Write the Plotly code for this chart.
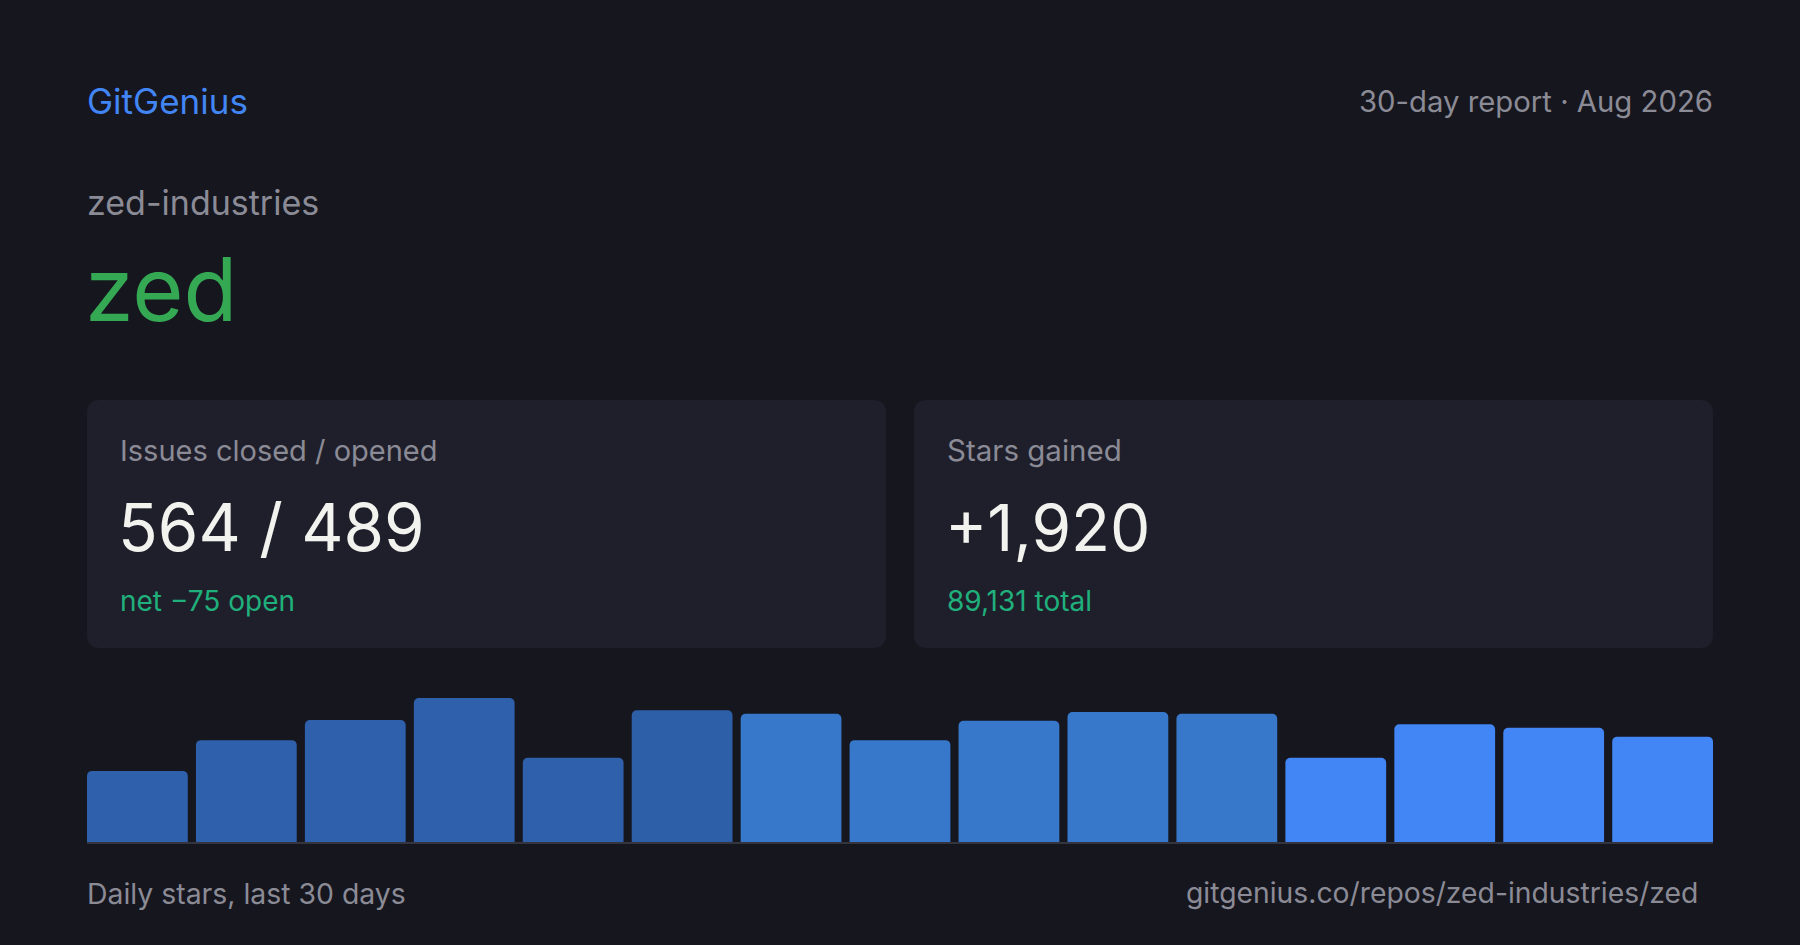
import plotly.graph_objects as go

# ---- data ----
brand = "GitGenius"
report_label = "30-day report · Aug 2026"
owner = "zed-industries"
repo = "zed"
card_titles = ["Issues closed / opened", "Stars gained"]
card_values = ["564 / 489", "+1,920"]
card_subs = ["net \u221275 open", "89,131 total"]
periods = [f"P{i+1}" for i in range(15)]
stars = [81, 116, 139, 164, 96, 150, 146, 116, 138, 148, 146, 96, 134, 130, 120]
bar_colors = ["#2f60ab"] * 5 + ["#2d5ea8"] + ["#3778cb"] * 5 + ["#4285f4"] * 4
footer_left = "Daily stars, last 30 days"
footer_right = "gitgenius.co/repos/zed-industries/zed"

W, H = 1800, 945
BG = "#16161f"
CARD = "#1f1f2b"
GRAY = "#8b8b96"
WHITE = "#f2f2ee"
GREEN_SUB = "#1fb07c"
FONT = "Inter"


def px(x):
    return x / W


def py(y):
    return 1 - y / H


def rounded_rect(x0, y0, x1, y1, r):
    rx, ry = r / W, r / H
    X0, X1 = px(x0), px(x1)
    Y0, Y1 = py(y0), py(y1)  # Y0 top (larger), Y1 bottom
    return (f"M{X0+rx},{Y0} L{X1-rx},{Y0} Q{X1},{Y0} {X1},{Y0-ry} "
            f"L{X1},{Y1+ry} Q{X1},{Y1} {X1-rx},{Y1} L{X0+rx},{Y1} "
            f"Q{X0},{Y1} {X0},{Y1+ry} L{X0},{Y0-ry} Q{X0},{Y0} {X0+rx},{Y0} Z")


fig = go.Figure()
gap = 0.075
fig.add_trace(go.Bar(
    x=periods, y=stars,
    marker=dict(color=bar_colors, line=dict(width=0), cornerradius=5),
    hoverinfo="skip",
))

bar_left, bar_right = 87, 1713
base_y, top_y = 842, 680
ppu = 144 / 164  # pixels per star
ymax = (base_y - top_y) / ppu

fig.update_layout(
    width=W, height=H,
    margin=dict(l=0, r=0, t=0, b=0),
    paper_bgcolor=BG, plot_bgcolor=BG,
    showlegend=False,
    bargap=gap,
    font=dict(family=FONT),
    xaxis=dict(domain=[px(bar_left), px(bar_right)], visible=False,
               range=[-0.5 + gap / 2, len(periods) - 0.5 - gap / 2], fixedrange=True),
    yaxis=dict(domain=[py(base_y), py(top_y)], visible=False,
               range=[0, ymax], fixedrange=True),
)

shapes = []
cards = [(87, 400, 886, 648), (914, 400, 1713, 648)]
for (x0, y0, x1, y1) in cards:
    shapes.append(dict(type="path", path=rounded_rect(x0, y0, x1, y1, 13),
                       xref="paper", yref="paper", fillcolor=CARD,
                       line=dict(width=0), layer="below"))
shapes.append(dict(type="rect", xref="paper", yref="paper",
                   x0=px(bar_left), x1=px(bar_right), y0=py(844), y1=py(842),
                   fillcolor="#34343f", line=dict(width=0), layer="above"))
fig.update_layout(shapes=shapes)

ann = []


def text(x, y, s, size, color, anchor="left"):
    ann.append(dict(x=px(x), y=py(y), xref="paper", yref="paper", text=s,
                    showarrow=False, xanchor=anchor, yanchor="middle",
                    font=dict(family=FONT, size=size, color=color)))


text(85, 101, brand, 35, "#4285f4")
text(1715, 101, report_label, 29.3, GRAY, "right")
text(85, 203, owner, 34, GRAY)
text(83, 289, repo, 88, "#34a853")
title_sizes = [29, 29.5]
value_sizes = [65.5, 64]
for i, (x0, y0, x1, y1) in enumerate(cards):
    tx = x0 + 31
    text(tx, 450, card_titles[i], title_sizes[i], GRAY)
    text(tx - 2, 527, card_values[i], value_sizes[i], WHITE)
    text(tx, 601, card_subs[i], 28, GREEN_SUB)
text(85, 893, footer_left, 28.4, GRAY)
text(1700, 893, footer_right, 28.3, GRAY, "right")
fig.update_layout(annotations=ann)

fig.write_html(
    "out.html",
    config={"displayModeBar": False},
    post_script="document.body.style.margin='0';document.body.style.background='#16161f';"
                "document.documentElement.style.background='#16161f';",
)
